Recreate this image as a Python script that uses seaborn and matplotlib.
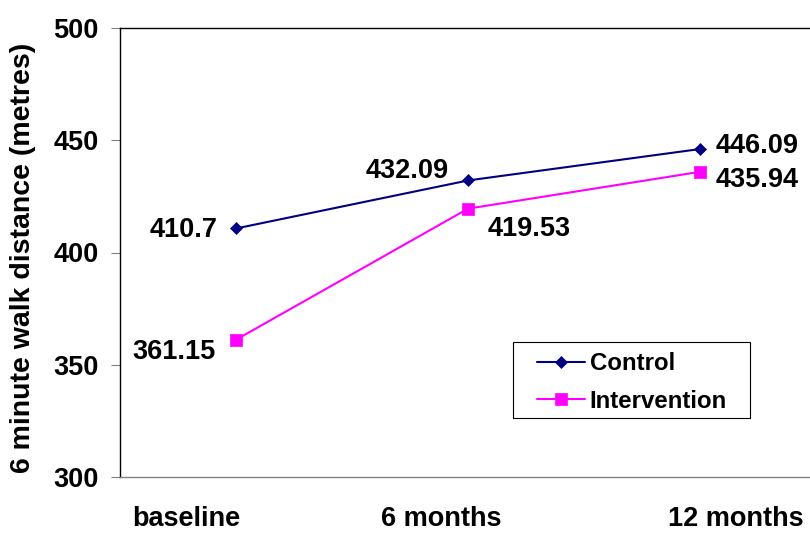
import matplotlib
matplotlib.use("Agg")
import matplotlib.pyplot as plt
import matplotlib.transforms as mtransforms
from matplotlib.patches import Rectangle
import pandas as pd
import seaborn as sns

# Six-minute walk distance by group and time point
time_points = ["baseline", "6 months", "12 months"]
control = [410.7, 432.09, 446.09]
intervention = [361.15, 419.53, 435.94]
groups = ["Control", "Intervention"]
y_ticks = [300, 350, 400, 450, 500]

df = pd.DataFrame({
    "time": time_points * 2,
    "distance": control + intervention,
    "group": [groups[0]] * 3 + [groups[1]] * 3,
})

sns.set_theme(style="white")
plt.rcParams["font.family"] = ["Liberation Sans", "DejaVu Sans"]
plt.rcParams["font.weight"] = "bold"
for key in ["text.color", "axes.labelcolor", "xtick.color", "ytick.color"]:
    plt.rcParams[key] = "black"

fig = plt.figure(figsize=(8.1, 5.33), dpi=100)
ax = fig.add_axes([120 / 810, 56 / 533, 690 / 810, 449 / 533])

colors = {"Control": "#000080", "Intervention": "#FF00FF"}
sns.lineplot(
    data=df, x="time", y="distance", hue="group", style="group",
    palette=colors, markers={"Control": "D", "Intervention": "s"},
    dashes=False, linewidth=1.5, ax=ax, legend=True, sort=False,
)
for line in ax.get_lines():
    line.set_markeredgecolor(line.get_color())
    line.set_markeredgewidth(0.5)
    if line.get_marker() == "D":
        line.set_markersize(6.6)
    elif line.get_marker() == "s":
        line.set_markersize(9.2)

# Value labels next to each point (offsets in points)
offsets = {
    "Control": [(-13, -1, "right"), (-14, 7, "right"), (11, 2, "left")],
    "Intervention": [(-15, -9, "right"), (14, -15, "left"), (11, -6, "left")],
}
for name, values in zip(groups, [control, intervention]):
    for i, v in enumerate(values):
        dx, dy, ha = offsets[name][i]
        ax.annotate(f"{v:g}", (i, v), xytext=(dx, dy), textcoords="offset points",
                    ha=ha, va="center", fontsize=19.5, fontweight="bold", color="black")

ax.set_xlim(-0.5, 2.474)
ax.set_ylim(300, 500)
ax.set_yticks(y_ticks)
ax.set_xlabel("")
ax.set_ylabel("6 minute walk distance (metres)", fontsize=20.5, fontweight="bold")
ax.yaxis.set_label_coords(-0.122, 0.488)

ax.tick_params(axis="y", which="both", left=True, length=6.5, width=0.8,
               color="#808080", labelcolor="black", pad=9, labelsize=19.5)
ax.tick_params(axis="x", which="both", bottom=False, length=0, pad=21,
               labelcolor="black", labelsize=19.5)
for lab in ax.get_yticklabels() + ax.get_xticklabels():
    lab.set_fontweight("bold")

# Category labels shifted horizontally (pixels)
shifts = [-50, -27, 36]
for lab, s in zip(ax.get_xticklabels(), shifts):
    lab.set_transform(lab.get_transform() + mtransforms.ScaledTranslation(s / 100, 0, fig.dpi_scale_trans))

for side in ["left", "top"]:
    ax.spines[side].set_color("black")
    ax.spines[side].set_linewidth(1.0)
ax.spines["bottom"].set_color("#808080")
ax.spines["bottom"].set_linewidth(1.0)
ax.spines["right"].set_visible(False)

# Legend box drawn as a separate rectangle, entries placed inside it
fig.add_artist(Rectangle((513 / 810, (533 - 418) / 533), 237 / 810, 76 / 533,
                         transform=fig.transFigure, facecolor="white",
                         edgecolor="black", linewidth=0.8, zorder=4))
handles, labels = ax.get_legend_handles_labels()
leg = fig.legend(
    handles, labels, loc="upper left",
    bbox_to_anchor=(537 / 810, (533 - 352) / 533), bbox_transform=fig.transFigure,
    borderaxespad=0, borderpad=0, frameon=False, fontsize=17.3,
    handlelength=2.0, handletextpad=0.2, labelspacing=0.62,
)
leg.set_zorder(5)
for t in leg.get_texts():
    t.set_fontweight("bold")
    t.set_color("black")
for h in leg.legend_handles:
    h.set_markeredgecolor(h.get_color())
    if h.get_marker() == "D":
        h.set_markersize(6.3)
    else:
        h.set_markersize(8.2)
ax.get_legend().remove()

fig.savefig("out.png", dpi=100, facecolor="white")
